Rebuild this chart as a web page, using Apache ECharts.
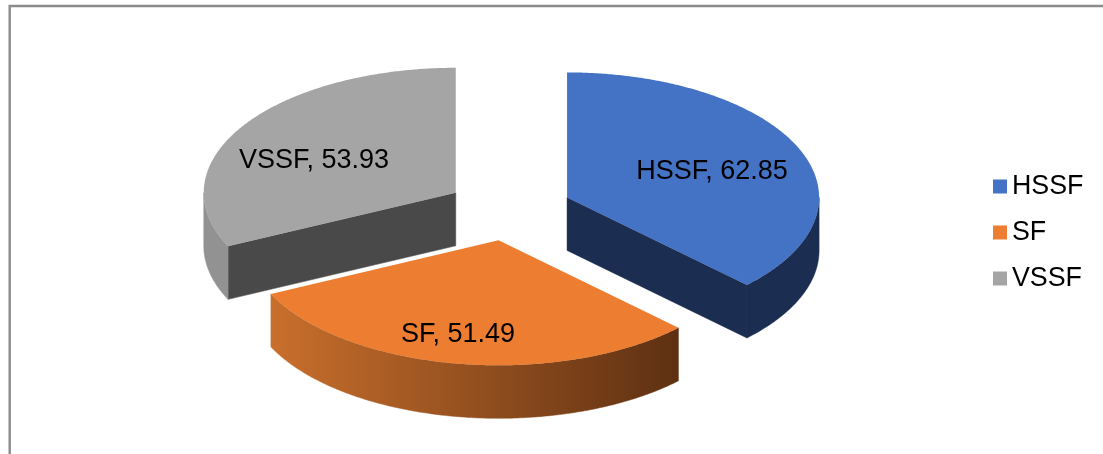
<!DOCTYPE html>
<html>
<head>
<meta charset="utf-8">
<title>Exploded 3D pie</title>
<script src="https://cdn.jsdelivr.net/npm/echarts@6/dist/echarts.min.js"></script>
<style>
  html, body { margin: 0; padding: 0; background: #fff; }
  #chart { width: 1103px; height: 454px; }
</style>
</head>
<body>
<div id="chart"></div>
<script>
const names = ['HSSF', 'SF', 'VSSF']
const values = [62.85, 51.49, 53.93]

// pie geometry
const font = '"Liberation Sans", Arial, sans-serif'
const cx = 509
const cy = 209.5
const rx = 252
const ry = 125
const depth = 53
const explode = 0.25

// colours per slice
const topColors = ['#4472c4', '#ed7d31', '#a5a5a5']
const faceColors = ['#1b2d50', '#5e3012', '#494949']
const wallColors = [
  '#1b2d50',
  new echarts.graphic.LinearGradient(0, 0, 1, 0, [
    { offset: 0, color: '#c96f2c' },
    { offset: 1, color: '#5e3012' },
  ]),
  '#929292',
]
const labelAt = [[712, 171.5], [458, 334.5], [314, 160.5]]

const total = values.reduce((a, b) => a + b, 0)

function sliceAngles(i) {
  const before = values.slice(0, i).reduce((a, b) => a + b, 0)
  return [(before / total) * Math.PI * 2, ((before + values[i]) / total) * Math.PI * 2]
}

function arc(c, from, to, dy) {
  const pts = []
  const n = Math.max(2, Math.ceil(Math.abs(to - from) / 0.008))
  for (let k = 0; k <= n; k++) {
    const a = from + ((to - from) * k) / n
    pts.push([c[0] + rx * Math.sin(a), c[1] - ry * Math.cos(a) + dy])
  }
  return pts
}

function renderSlice(i) {
  const [a0, a1] = sliceAngles(i)
  const mid = (a0 + a1) / 2
  const c = [cx + explode * rx * Math.sin(mid), cy - explode * ry * Math.cos(mid)]
  const children = []

  // radial cut faces that look at the viewer
  const radial = (a) => {
    const p = arc(c, a, a, 0)[0]
    children.push({
      type: 'polygon',
      shape: { points: [c, p, [p[0], p[1] + depth], [c[0], c[1] + depth]] },
      style: { fill: faceColors[i], stroke: faceColors[i], lineWidth: 0.5 },
    })
  }
  if (Math.sin(a0) < -1e-6) radial(a0)
  if (Math.sin(a1) > 1e-6) radial(a1)

  // outer wall, only the front half of the ellipse
  const wallFrom = Math.max(a0, Math.PI / 2)
  const wallTo = Math.min(a1, (Math.PI * 3) / 2)
  if (wallTo > wallFrom) {
    const upper = arc(c, wallFrom, wallTo, 0)
    const lower = arc(c, wallFrom, wallTo, depth).reverse()
    children.push({
      type: 'polygon',
      shape: { points: upper.concat(lower) },
      style: { fill: wallColors[i], stroke: wallColors[i], lineWidth: 0.5 },
    })
  }

  // top face
  children.push({
    type: 'polygon',
    shape: { points: [c].concat(arc(c, a0, a1, 0)) },
    style: { fill: topColors[i] },
  })

  children.push({
    type: 'text',
    style: {
      text: names[i] + ', ' + values[i].toFixed(2),
      x: labelAt[i][0],
      y: labelAt[i][1],
      align: 'center',
      verticalAlign: 'middle',
      fontFamily: font,
      fontSize: 27,
      fill: '#000',
    },
  })
  return { type: 'group', children }
}

// one series per slice so the legend stays native; back slices drawn first
const drawOrder = [2, 0, 1]
const chart = echarts.init(document.getElementById('chart'), null, { renderer: 'canvas' })
chart.setOption({
  animation: false,
  backgroundColor: '#fff',
  legend: {
    data: names,
    orient: 'vertical',
    left: 993,
    top: 173,
    padding: 0,
    icon: 'rect',
    itemWidth: 14,
    itemHeight: 14,
    itemGap: 19,
    selectedMode: false,
    textStyle: { fontFamily: font, fontSize: 26.8, color: '#000' },
  },
  graphic: [
    {
      type: 'polyline',
      shape: { points: [[9.7, 454], [9.7, 6], [1103, 6]] },
      style: { fill: null, stroke: '#8c8c8c', lineWidth: 2.4 },
    },
  ],
  series: drawOrder.map((i) => ({
    type: 'custom',
    name: names[i],
    coordinateSystem: 'none',
    itemStyle: { color: topColors[i] },
    data: [values[i]],
    renderItem: () => renderSlice(i),
  })),
})
</script>
</body>
</html>
